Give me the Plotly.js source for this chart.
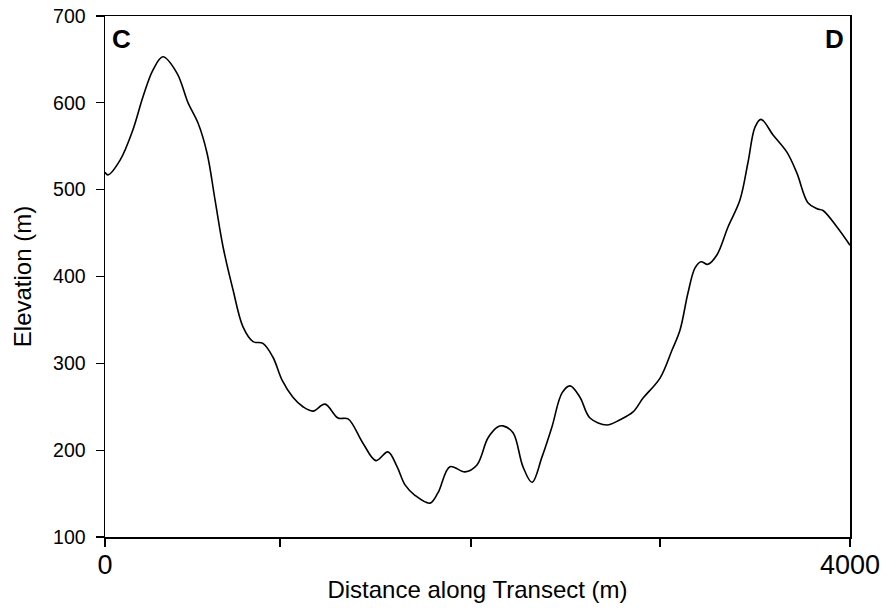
<!DOCTYPE html>
<html>
<head>
<meta charset="utf-8">
<script src="https://cdn.plot.ly/plotly-3.0.1.min.js"></script>
<style>html,body{margin:0;padding:0;background:#fff;}#chart{width:886px;height:616px;}</style>
</head>
<body>
<div id="chart"></div>
<script>
// Distance along transect (m)
const distance = [0, 16, 81, 150, 204, 258, 311, 387, 446, 499, 548, 591, 634, 687, 741, 795, 848, 902, 950,
  1009, 1063, 1117, 1181, 1251, 1305, 1385, 1455, 1519, 1568, 1611, 1664, 1745, 1788, 1852, 1933, 1997,
  2056, 2110, 2137, 2191, 2244, 2293, 2346, 2400, 2454, 2497, 2550, 2604, 2695, 2765, 2835, 2889, 2980,
  3044, 3087, 3130, 3168, 3200, 3237, 3286, 3345, 3409, 3452, 3490, 3522, 3587, 3662, 3715, 3774, 3823,
  3855, 3930, 4000];
// Elevation (m)
const elevation = [520, 517, 534, 569, 607, 638, 653, 634, 600, 577, 542, 488, 434, 385, 342, 325, 323, 307, 281,
  261, 250, 245, 253, 237, 236, 208, 188, 198, 181, 160, 148, 139, 151, 181, 175, 183,
  214, 227, 228, 220, 181, 163, 192, 227, 266, 274, 261, 237, 229, 235, 244, 260, 283,
  315, 338, 381, 410, 417, 414, 425, 457, 488, 531, 572, 581, 563, 543, 519, 485, 478,
  476, 457, 436];
const xTickVals = [0, 940, 1965, 2980, 4000];
const xTickText = ["0", "", "", "", "4000"];
const yTickVals = [100, 200, 300, 400, 500, 600, 700];
const cornerLabels = ["C", "D"];

const FONT = "Arial, 'Liberation Sans', Helvetica, sans-serif";

const trace = {
  x: distance, y: elevation, type: "scatter", mode: "lines",
  line: {color: "#000", width: 1.6, shape: "spline", smoothing: 1},
  hoverinfo: "skip"
};

const layout = {
  width: 886, height: 616,
  margin: {l: 105, r: 36, t: 16, b: 79, pad: 0},
  paper_bgcolor: "#fff", plot_bgcolor: "#fff",
  showlegend: false,
  font: {family: FONT, color: "#000"},
  xaxis: {
    range: [0, 4000], autorange: false,
    tickmode: "array", tickvals: xTickVals, ticktext: xTickText,
    ticks: "outside", ticklen: 8, tickwidth: 1.3, tickcolor: "#000",
    showline: true, linecolor: "#000", linewidth: 1.5, mirror: true,
    showgrid: false, zeroline: false,
    tickfont: {family: FONT, size: 27, color: "#000"},
    ticklabelstandoff: -5,
    title: {text: "Distance along Transect (m)", font: {family: FONT, size: 24, color: "#000"}, standoff: 2},
    automargin: false
  },
  yaxis: {
    range: [100, 700], autorange: false,
    tickmode: "array", tickvals: yTickVals,
    ticks: "outside", ticklen: 8, tickwidth: 1.3, tickcolor: "#000",
    showline: true, linecolor: "#000", linewidth: 1.5, mirror: true,
    showgrid: false, zeroline: false,
    tickfont: {family: FONT, size: 19.5, color: "#000"},
    ticklabelstandoff: 6,
    title: {text: "Elevation (m)", font: {family: FONT, size: 24, color: "#000"}, standoff: 14},
    automargin: false
  },
  annotations: [
    {text: "<b>" + cornerLabels[0] + "</b>", xref: "paper", yref: "paper", x: 0.007, y: 0.988,
     xanchor: "left", yanchor: "top", showarrow: false, font: {family: FONT, size: 26, color: "#000"}},
    {text: "<b>" + cornerLabels[1] + "</b>", xref: "paper", yref: "paper", x: 0.995, y: 0.988,
     xanchor: "right", yanchor: "top", showarrow: false, font: {family: FONT, size: 26, color: "#000"}}
  ]
};

Plotly.newPlot("chart", [trace], layout, {displayModeBar: false, staticPlot: true});
</script>
</body>
</html>
